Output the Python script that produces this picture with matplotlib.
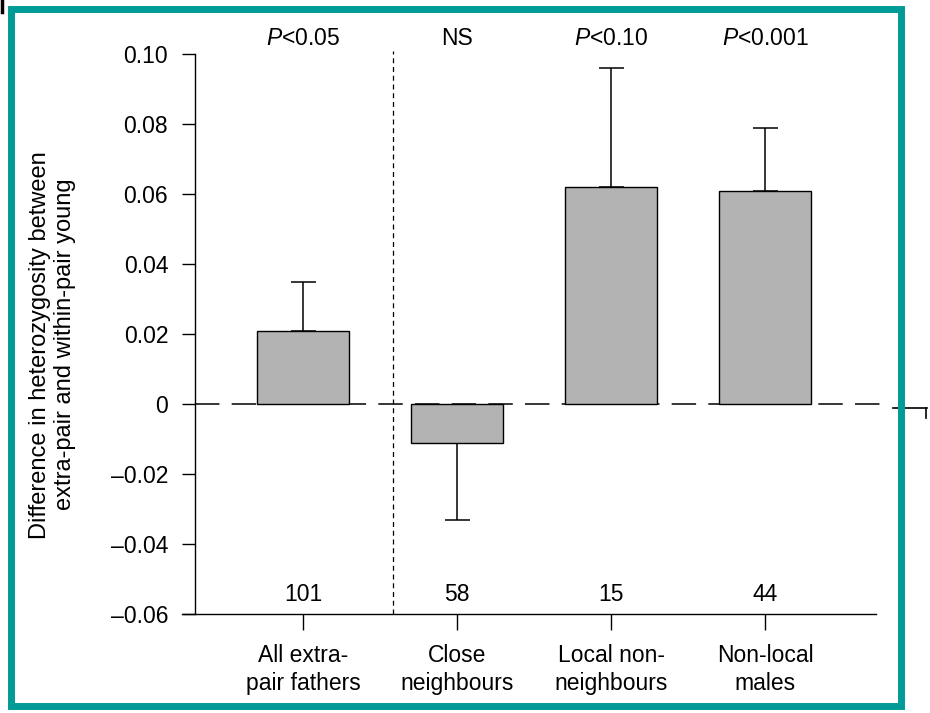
import matplotlib
matplotlib.use("Agg")
import matplotlib.pyplot as plt
from matplotlib.patches import Rectangle
from matplotlib.lines import Line2D

plt.rcParams['font.family'] = ['Liberation Sans', 'DejaVu Sans']
plt.rcParams['mathtext.fontset'] = 'custom'
plt.rcParams['mathtext.it'] = 'Liberation Sans:italic'
plt.rcParams['mathtext.rm'] = 'Liberation Sans'

# data
categories = ["All extra-\npair fathers", "Close\nneighbours", "Local non-\nneighbours", "Non-local\nmales"]
diff_values = [0.021, -0.011, 0.062, 0.061]
error_ends = [0.035, -0.033, 0.096, 0.079]
sample_sizes = ["101", "58", "15", "44"]
p_labels = [r"$\it{P}$<0.05", "NS", r"$\it{P}$<0.10", r"$\it{P}$<0.001"]
y_ticks = [-0.06, -0.04, -0.02, 0, 0.02, 0.04, 0.06, 0.08, 0.10]

teal = "#009B96"
grey = "#B3B3B3"
fs = 16.5

fig = plt.figure(figsize=(9.3, 7.13), dpi=100)
ax = fig.add_axes([182 / 930, 1 - 614 / 713, 694 / 930, 560 / 713])

x = list(range(len(categories)))
lower = [max(0, v - e) for v, e in zip(diff_values, error_ends)]
upper = [max(0, e - v) for v, e in zip(diff_values, error_ends)]

# dashed zero line behind the bars
ax.plot([-0.70, 3.8], [0, 0], color="black", lw=1.1, ls=(0, (16, 8)),
        clip_on=False, zorder=1)

ax.errorbar(x, diff_values, yerr=[lower, upper], fmt="none", ecolor="black",
            elinewidth=1.1, capsize=9, capthick=1.1, zorder=1.5)
ax.bar(x, diff_values, width=0.6, color=grey, edgecolor="black", lw=1.0, zorder=2)

# vertical separator between "all" and the subgroups
ax.plot([0.584, 0.584], [-0.06, 0.101], color="black", lw=0.9, ls=(0, (4, 3)),
        clip_on=False, zorder=1)

for xi, n in zip(x, sample_sizes):
    ax.text(xi, -0.0545, n, ha="center", va="center", fontsize=fs)
for xi, p in zip(x, p_labels):
    ax.text(xi, 0.1043, p, ha="center", va="center", fontsize=fs, clip_on=False)

ax.set_xlim(-0.786, 3.72)
ax.set_ylim(-0.06, 0.10)
ax.set_xticks(x)
ax.set_xticklabels(categories, linespacing=1.3)
ax.set_yticks(y_ticks)
ax.set_yticklabels(["0" if v == 0 else f"{v:.2f}".replace("-", "\u2013") for v in y_ticks])
ax.tick_params(axis="y", direction="out", length=9.5, width=1, pad=10, labelsize=fs)
ax.tick_params(axis="x", direction="out", length=11.5, width=1, pad=10, labelsize=fs)

ax.spines["top"].set_visible(False)
ax.spines["right"].set_visible(False)
ax.spines["left"].set_position(("data", -0.70))
ax.spines["left"].set_linewidth(1)
ax.spines["bottom"].set_linewidth(1)
ax.patch.set_visible(False)

ax.set_ylabel("Difference in heterozygosity between\nextra-pair and within-pair young",
              fontsize=17, linespacing=1.2, va="center")
ax.yaxis.set_label_coords(-0.187, 0.481)

# teal frame around the figure
fig.patches.append(Rectangle((11 / 930, 1 - 706 / 713), 890 / 930, 697 / 713,
                             transform=fig.transFigure, fill=False,
                             edgecolor=teal, lw=5, zorder=5))
# small scan artefacts outside the frame
fig.lines.append(Line2D([893 / 930, 927 / 930], [1 - 408 / 713, 1 - 408 / 713],
                        transform=fig.transFigure, color="black", lw=1.2))
fig.lines.append(Line2D([926 / 930, 926 / 930], [1 - 408 / 713, 1 - 418 / 713],
                        transform=fig.transFigure, color="black", lw=1.2))
fig.lines.append(Line2D([1.5 / 930, 1.5 / 930], [1, 1 - 12 / 713],
                        transform=fig.transFigure, color="black", lw=2.5))

fig.savefig("out.png", dpi=100)
